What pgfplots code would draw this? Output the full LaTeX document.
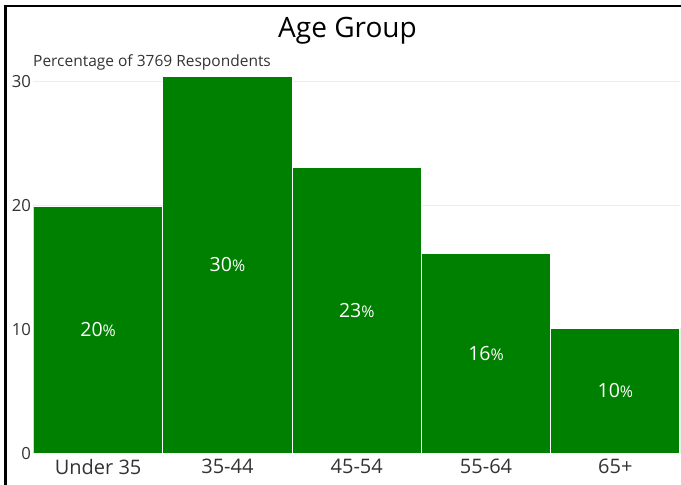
\documentclass[border=0pt]{standalone}
\usepackage{pgfplots}
\pgfplotsset{compat=1.18}
\usepackage{fontspec}
\setmainfont{Open Sans}
\definecolor{bargreen}{HTML}{008000}
\begin{document}
\begin{tikzpicture}[x=1pt,y=1pt]
\useasboundingbox (0,0) rectangle (681,485);
\draw[line width=2.6pt] (4,478.8) -- (681,478.8);
\draw[line width=2.6pt] (5.3,0) -- (5.3,480.1);
\node[anchor=base, font=\fontsize{28}{28}\selectfont] at (347.5,447.5) {Age Group};
\node[anchor=base west, inner sep=0pt, text=black!80, font=\fontsize{15.5}{15.5}\selectfont] at (33,418.3) {Percentage of 3769 Respondents};
\begin{axis}[
  at={(33.5pt,31.7pt)}, anchor=south west,
  scale only axis, width=646.5pt, height=378.3pt,
  xmin=-0.5, xmax=4.5, ymin=0, ymax=30.53,
  axis line style={draw=none},
  tick style={draw=none},
  ymajorgrids, grid style={color=black!7, line width=0.9pt},
  ytick={0,10,20,30},
  xtick={0,1,2,3,4},
  xticklabels={Under 35,35-44,45-54,55-64,65+},
  /pgf/number format/assume math mode=true,
  tick label style={text=black!80},
  yticklabel style={font=\fontsize{16.7}{16.7}\selectfont, xshift=1pt},
  xticklabel style={font=\fontsize{20}{20}\selectfont, yshift=-2.5pt},
]
\addplot[ybar, bar width=1, bar shift=0pt, fill=bargreen, draw=white, line width=1.1pt,
  nodes near coords, point meta=explicit symbolic,
  visualization depends on={y \as \rawy},
  every node near coord/.append style={anchor=center, text=white, yshift={-\rawy*6.1955pt}, font=\fontsize{19.5}{19.5}\selectfont}]
  table[meta=lab] {
x y lab
0 19.9 {20{\fontsize{16}{16}\selectfont\%}}
1 30.4 {30{\fontsize{16}{16}\selectfont\%}}
2 23.1 {23{\fontsize{16}{16}\selectfont\%}}
3 16.1 {16{\fontsize{16}{16}\selectfont\%}}
4 10.1 {10{\fontsize{16}{16}\selectfont\%}}
};
\end{axis}
\end{tikzpicture}
\end{document}
